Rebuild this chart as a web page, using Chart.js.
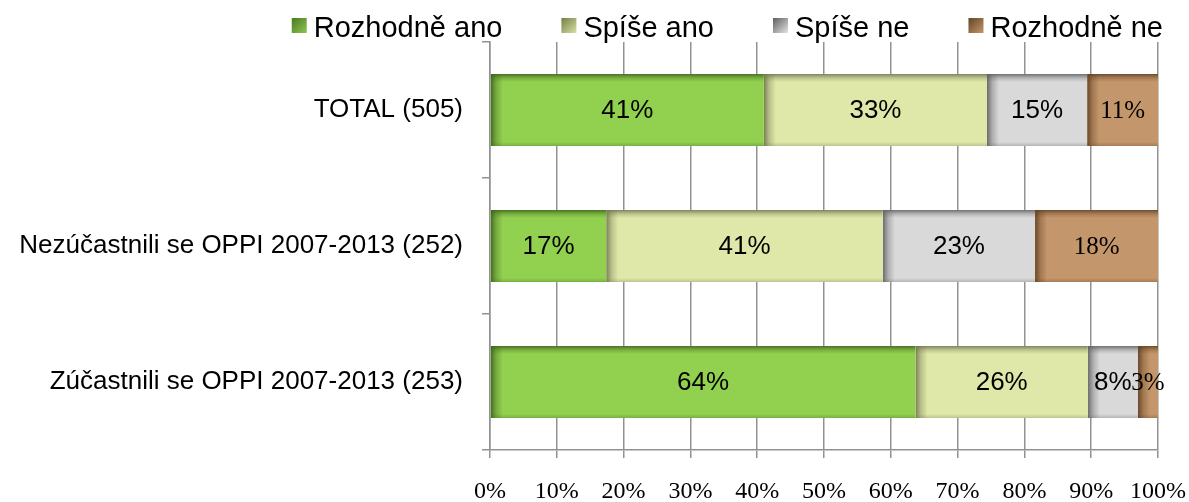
<!DOCTYPE html>
<html>
<head>
<meta charset="utf-8">
<script src="https://cdn.jsdelivr.net/npm/chart.js@4.4.0/dist/chart.umd.min.js"></script>
<style>
html, body { margin: 0; padding: 0; background: #ffffff; }
#wrap { width: 1189px; height: 502px; position: relative; }
canvas { display: block; }
</style>
</head>
<body>
<div id="wrap"><canvas id="c" width="1189" height="502"></canvas></div>
<script>
// ---- data ----
const categories = ['TOTAL (505)', 'Nezúčastnili se OPPI 2007-2013 (252)', 'Zúčastnili se OPPI 2007-2013 (253)'];
const seriesNames = ['Rozhodně ano', 'Spíše ano', 'Spíše ne', 'Rozhodně ne'];
const rozhodneAno = [41.0, 17.4, 63.7];
const spiseAno   = [33.4, 41.4, 25.8];
const spiseNe    = [15.0, 22.8, 7.5];
const rozhodneNe = [10.6, 18.4, 3.0];
const xTickValues = [0, 10, 20, 30, 40, 50, 60, 70, 80, 90, 100];

// ---- styles ----
const fillColors   = ['#92D050', '#DFE8A8', '#D9D9D9', '#C4966B'];
const shadeRGB     = ['62,98,28', '112,116,78', '95,95,95', '96,64,34'];
const legendDark   = ['#4A7A1E', '#737D48', '#5E5E5E', '#634527'];
const legendLight  = ['#8CC653', '#D8E1A2', '#E4E4E4', '#C2966A'];
const SANS = '"Liberation Sans", Arial, sans-serif';
const SERIF = '"Liberation Serif", "Times New Roman", serif';
const gridColor = '#929292';

const seriesValues = [rozhodneAno, spiseAno, spiseNe, rozhodneNe];

const datasets = seriesNames.map((name, i) => ({
  label: name,
  data: seriesValues[i],
  backgroundColor: fillColors[i],
  borderWidth: 0,
  barPercentage: 0.53,
  categoryPercentage: 1.0
}));

// Inner shading on bars + value labels
const barDecor = {
  id: 'barDecor',
  afterDatasetsDraw(chart) {
    const ctx = chart.ctx;
    chart.data.datasets.forEach((ds, di) => {
      const meta = chart.getDatasetMeta(di);
      meta.data.forEach((el, j) => {
        const left = Math.min(el.x, el.base);
        const right = Math.max(el.x, el.base);
        const top = el.y - el.height / 2;
        const bottom = el.y + el.height / 2;
        const w = right - left, h = bottom - top;
        if (w <= 0) return;
        const rgb = shadeRGB[di];
        ctx.save();
        ctx.beginPath();
        ctx.rect(left, top, w, h);
        ctx.clip();
        // left band
        let g = ctx.createLinearGradient(left, 0, left + 12, 0);
        g.addColorStop(0, 'rgba(' + rgb + ',0.9)');
        g.addColorStop(0.45, 'rgba(' + rgb + ',0.35)');
        g.addColorStop(1, 'rgba(' + rgb + ',0)');
        ctx.fillStyle = g;
        ctx.fillRect(left, top, 12, h);
        // top band
        g = ctx.createLinearGradient(0, top, 0, top + 8);
        g.addColorStop(0, 'rgba(' + rgb + ',0.85)');
        g.addColorStop(0.5, 'rgba(' + rgb + ',0.3)');
        g.addColorStop(1, 'rgba(' + rgb + ',0)');
        ctx.fillStyle = g;
        ctx.fillRect(left, top, w, 8);
        // bottom band
        g = ctx.createLinearGradient(0, bottom - 4, 0, bottom);
        g.addColorStop(0, 'rgba(' + rgb + ',0)');
        g.addColorStop(1, 'rgba(' + rgb + ',0.3)');
        ctx.fillStyle = g;
        ctx.fillRect(left, bottom - 4, w, 4);
        ctx.restore();

        // value label
        const v = ds.data[j];
        ctx.save();
        ctx.fillStyle = '#000';
        ctx.textAlign = 'center';
        ctx.textBaseline = 'middle';
        ctx.font = (di === 3 ? '25px ' + SERIF : '26px ' + SANS);
        ctx.fillText(Math.round(v) + '%', (left + right) / 2, el.y + 1);
        ctx.restore();
      });
    });
  }
};

// Legend drawn at the top, right aligned
const topLegend = {
  id: 'topLegend',
  afterDraw(chart) {
    const ctx = chart.ctx;
    ctx.save();
    ctx.font = '29px ' + SANS;
    const names = chart.data.datasets.map(d => d.label);
    const widths = names.map(n => ctx.measureText(n).width);
    const markerW = 15, markerH = 15, markerGap = 7, itemGap = 59;
    const rightEdge = chart.chartArea.right + 5;
    const total = widths.reduce((a, w) => a + markerW + markerGap + w, 0) + itemGap * (names.length - 1);
    let x = rightEdge - total;
    const mTop = 18, baseline = 37;
    names.forEach((n, i) => {
      const g = ctx.createLinearGradient(x, mTop, x + markerW, mTop + markerH);
      g.addColorStop(0, legendDark[i]);
      g.addColorStop(1, legendLight[i]);
      ctx.fillStyle = g;
      ctx.fillRect(x, mTop, markerW, markerH);
      ctx.fillStyle = '#000';
      ctx.textAlign = 'left';
      ctx.textBaseline = 'alphabetic';
      ctx.fillText(n, x + markerW + markerGap, baseline);
      x += markerW + markerGap + widths[i] + itemGap;
    });
    ctx.restore();
  }
};

new Chart(document.getElementById('c'), {
  type: 'bar',
  data: { labels: categories, datasets: datasets },
  plugins: [barDecor, topLegend],
  options: {
    indexAxis: 'y',
    responsive: false,
    animation: false,
    devicePixelRatio: 1,
    layout: { padding: { top: 42, right: 31, left: 0, bottom: 0 } },
    plugins: {
      legend: { display: false },
      tooltip: { enabled: false },
      title: { display: false }
    },
    scales: {
      x: {
        stacked: true,
        min: 0,
        max: 100,
        afterBuildTicks(scale) { scale.ticks = xTickValues.map(v => ({ value: v })); },
        afterFit(scale) { scale.height = 52; scale.paddingRight = 0; scale.paddingLeft = 0; },
        ticks: {
          callback: v => v + '%',
          color: '#000',
          font: { family: SERIF, size: 24 },
          padding: 19,
          maxRotation: 0,
          autoSkip: false
        },
        grid: { color: gridColor, lineWidth: 1.5, tickLength: 8, drawOnChartArea: true },
        border: { display: true, color: gridColor, width: 1.5 }
      },
      y: {
        stacked: true,
        afterFit(scale) { scale.width = 490; },
        ticks: {
          color: '#000',
          font: { family: SANS, size: 26 },
          padding: 19
        },
        grid: { offset: true, drawOnChartArea: false, color: gridColor, lineWidth: 1.5, tickLength: 8 },
        border: { display: true, color: gridColor, width: 1.5 }
      }
    }
  }
});
</script>
</body>
</html>
